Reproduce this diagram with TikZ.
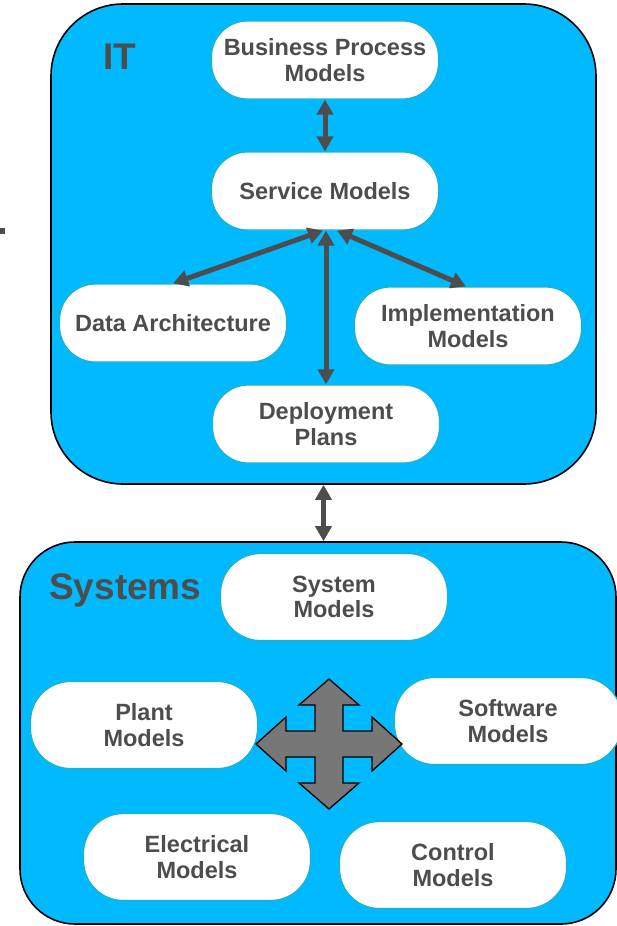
\documentclass[tikz,border=0pt]{standalone}
\usepackage{fontspec}
\setmainfont{Liberation Sans}
\usetikzlibrary{arrows.meta}
\definecolor{txt}{RGB}{77,77,77}
\definecolor{skyb}{RGB}{0,185,255}
\definecolor{tealb}{RGB}{30,178,196}
\definecolor{crossg}{RGB}{119,119,119}
\tikzset{
  panel/.style={draw=black, line width=1.6pt, fill=skyb},
  model/.style={draw=tealb, line width=1.2pt, fill=white, rounded corners=36pt,
    minimum width=227pt, minimum height=78pt, align=center, text=txt,
    font=\bfseries\fontsize{23.5}{25.5}\selectfont, inner sep=0pt},
  tall/.style={minimum height=87pt, rounded corners=40pt},
  title/.style={text=txt, font=\bfseries\fontsize{37}{40}\selectfont, inner sep=0pt, anchor=base west},
  link/.style={draw=txt, line width=5pt, {Triangle[length=15pt,width=16pt]}-{Triangle[length=15pt,width=16pt]}}
}
\begin{document}
\begin{tikzpicture}[x=1pt,y=-1pt]
\useasboundingbox (0,0) rectangle (617,926);
% tiny fragment at left edge
\fill[txt] (0,228) rectangle (5,234);
% panels
\node[panel, rounded corners=72pt, minimum width=545pt, minimum height=480pt, inner sep=0pt] (it) at (323.5,244) {};
\node[panel, rounded corners=55pt, minimum width=596pt, minimum height=382pt, inner sep=0pt] (sys) at (318,733) {};
% titles
\node[title] (itlabel) at (103,69) {IT};
\node[title] (syslabel) at (49,599) {Systems};
% IT models
\node[model] (bpm) at (325,60) {Business Process\\Models};
\node[model] (svc) at (325,191) {Service Models};
\node[model] (data) at (173,323) {Data Architecture};
\node[model] (impl) at (468,326) {Implementation\\Models};
\node[model] (depl) at (326,424) {Deployment\\Plans};
% Systems models
\node[model,tall] (sysm) at (334,597) {System\\Models};
\node[model,tall] (plant) at (144,725) {Plant\\Models};
\node[model,tall] (soft) at (508,721) {Software\\Models};
\node[model,tall] (elec) at (197,857) {Electrical\\Models};
\node[model,tall] (ctrl) at (453,865) {Control\\Models};
% connectors
\draw[link] (bpm.south) -- (svc.north);
\draw[link] ([xshift=-2pt]svc.south) -- (data.north);
\draw[link] ([xshift=12pt]svc.south) -- ([xshift=-2pt]impl.north);
\draw[link] ([xshift=1pt]svc.south) -- (depl.north);
\draw[link] (it.south) -- (it.south |- sys.north);
% four-way arrow
\begin{scope}[shift={(329,744)}]
\draw[fill=crossg, draw=black, line width=1.3pt, line join=miter]
  (0,-65) -- (30,-39) -- (14,-39) -- (14,-13) -- (43,-13) -- (43,-27) -- (73,0)
  -- (43,27) -- (43,13) -- (14,13) -- (14,39) -- (30,39) -- (0,65)
  -- (-30,39) -- (-14,39) -- (-14,13) -- (-43,13) -- (-43,27) -- (-73,0)
  -- (-43,-27) -- (-43,-13) -- (-14,-13) -- (-14,-39) -- (-30,-39) -- cycle;
\end{scope}
\end{tikzpicture}
\end{document}
